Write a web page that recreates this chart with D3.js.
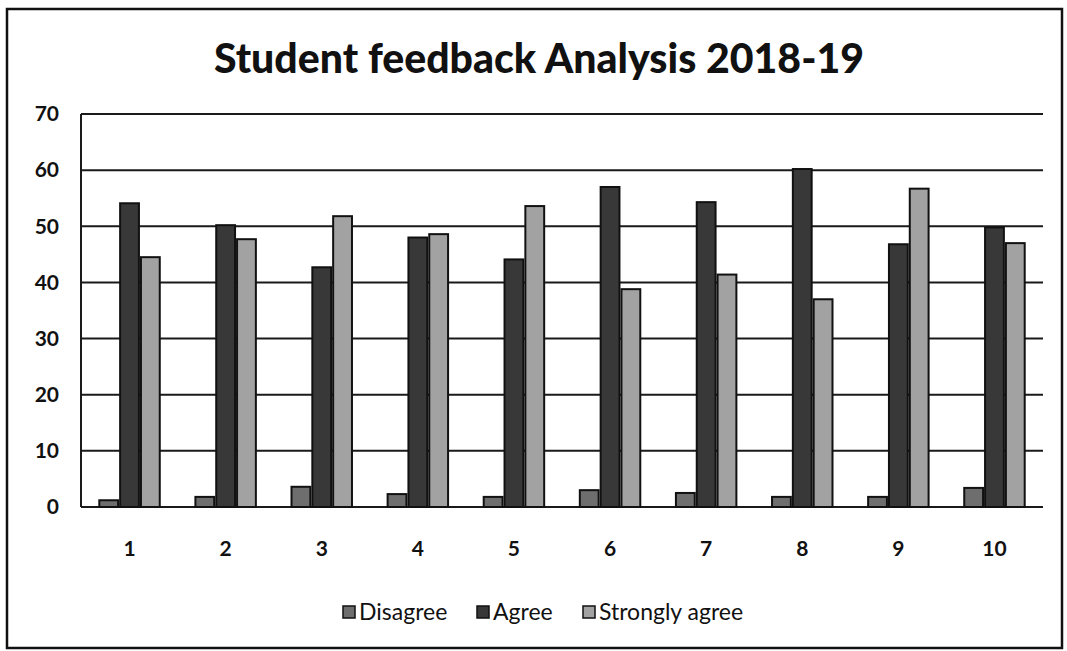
<!DOCTYPE html>
<html>
<head>
<meta charset="utf-8">
<script src="https://cdn.jsdelivr.net/npm/d3@7"></script>
<style>
  body { margin: 0; background: #fff; }
  text { font-family: Lato, "Open Sans", sans-serif; fill: #111; }
</style>
</head>
<body>
<svg id="chart" width="1067" height="651"></svg>
<script>
// values
const categories = ["1", "2", "3", "4", "5", "6", "7", "8", "9", "10"]
const seriesNames = ["Disagree", "Agree", "Strongly agree"]
const disagree = [1.2, 1.8, 3.6, 2.3, 1.8, 3.0, 2.5, 1.8, 1.8, 3.4]
const agree = [54.1, 50.2, 42.7, 48.0, 44.1, 57.0, 54.3, 60.2, 46.8, 49.8]
const stronglyAgree = [44.5, 47.7, 51.8, 48.6, 53.6, 38.8, 41.4, 37.0, 56.7, 47.0]
const yTicks = [0, 10, 20, 30, 40, 50, 60, 70]
const colors = ["#6e6e6e", "#383838", "#a2a2a2"]

const svg = d3.select("#chart")
const margin = { left: 81, right: 1043, top: 114, bottom: 507 }

// outer frame
svg.append("rect")
    .attr("x", 7).attr("y", 9)
    .attr("width", 1055).attr("height", 639)
    .attr("fill", "#fff")
    .attr("stroke", "#111").attr("stroke-width", 2.5)

svg.append("text")
    .attr("x", 539).attr("y", 73)
    .attr("text-anchor", "middle")
    .style("font-size", "41px").style("font-weight", "900")
    .text("Student feedback Analysis 2018-19")

const x = d3.scaleBand()
    .domain(categories)
    .range([margin.left, margin.right])
    .paddingInner(0.35).paddingOuter(0.18)

const xInner = d3.scaleBand()
    .domain(seriesNames)
    .range([0, x.bandwidth()])

const y = d3.scaleLinear()
    .domain([0, 70])
    .range([margin.bottom, margin.top])

// gridlines
svg.append("g")
    .selectAll("line")
    .data(yTicks)
    .enter().append("line")
    .attr("x1", margin.left).attr("x2", margin.right)
    .attr("y1", d => y(d)).attr("y2", d => y(d))
    .attr("stroke", "#1a1a1a").attr("stroke-width", 2)

// y axis line
svg.append("line")
    .attr("x1", margin.left).attr("x2", margin.left)
    .attr("y1", margin.top).attr("y2", margin.bottom)
    .attr("stroke", "#1a1a1a").attr("stroke-width", 2)

svg.append("g")
    .selectAll("text")
    .data(yTicks)
    .enter().append("text")
    .attr("x", 59).attr("y", d => y(d))
    .attr("dy", "0.35em")
    .attr("text-anchor", "end")
    .style("font-size", "21px").style("font-weight", "bold")
    .text(d => d)

const rows = categories.map((c, i) => ({
    cat: c,
    values: [disagree[i], agree[i], stronglyAgree[i]]
}))

const groups = svg.append("g")
    .selectAll("g")
    .data(rows)
    .enter().append("g")
    .attr("transform", d => "translate(" + x(d.cat) + ",0)")

groups.selectAll("rect")
    .data(d => d.values.map((v, k) => ({ name: seriesNames[k], value: v, k })))
    .enter().append("rect")
    .attr("x", d => xInner(d.name) + 1)
    .attr("width", xInner.bandwidth() - 2)
    .attr("y", d => y(d.value))
    .attr("height", d => y(0) - y(d.value))
    .attr("fill", d => colors[d.k])
    .attr("stroke", "#111").attr("stroke-width", 2)

svg.append("g")
    .selectAll("text")
    .data(categories)
    .enter().append("text")
    .attr("x", d => x(d) + x.bandwidth() / 2)
    .attr("y", 556)
    .attr("text-anchor", "middle")
    .style("font-size", "21px").style("font-weight", "bold")
    .text(d => d)

// legend
const legendX = [343, 477, 583]
const legend = svg.append("g")
    .selectAll("g")
    .data(seriesNames)
    .enter().append("g")
    .attr("transform", (d, i) => "translate(" + legendX[i] + ",612)")

legend.append("rect")
    .attr("x", 0).attr("y", -6)
    .attr("width", 12).attr("height", 12)
    .attr("fill", (d, i) => colors[i])
    .attr("stroke", "#111").attr("stroke-width", 1.5)

legend.append("text")
    .attr("x", 16).attr("y", 0)
    .attr("dy", "0.35em")
    .style("font-size", "23px")
    .text(d => d)
</script>
</body>
</html>
